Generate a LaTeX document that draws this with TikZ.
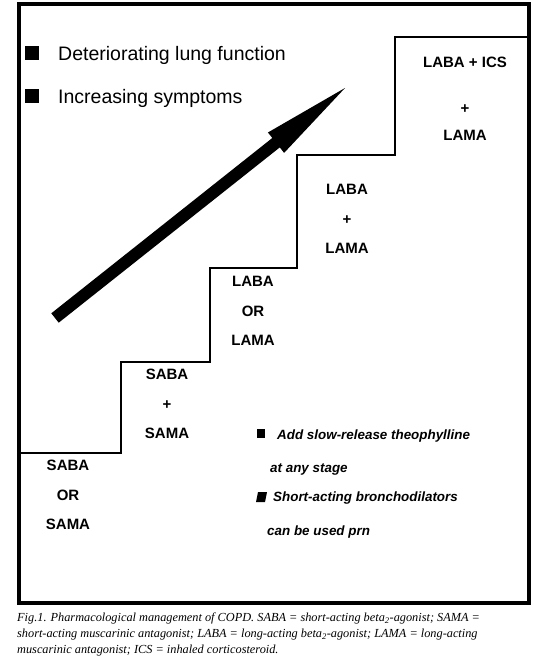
\documentclass[tikz,border=0pt]{standalone}
\usepackage{fontspec}
\setmainfont{Liberation Serif}
\newfontfamily\arialf{Liberation Sans}
\begin{document}
\begin{tikzpicture}[x=1pt,y=-1pt,
  frame/.style={line width=4pt},
  stair/.style={line width=2.4pt, line join=miter},
  legend/.style={anchor=base west, inner sep=0pt, font=\arialf\fontsize{19.5}{23}\selectfont},
  steplabel/.style={inner sep=0pt, align=center, font=\arialf\bfseries\fontsize{15}{29.5}\selectfont},
  note/.style={anchor=base west, inner sep=0pt, font=\arialf\bfseries\itshape\fontsize{13.4}{16}\selectfont},
  caption/.style={anchor=north west, inner sep=0pt, align=left, font=\itshape\fontsize{12.3}{16}\selectfont}]
\useasboundingbox (0,0) rectangle (534,668);
\fill[white] (0,0) rectangle (534,668);
% frame
\draw[frame] (19,4) rectangle (529,603);
% staircase
\draw[stair] (19,453) -- (121,453) -- (121,362) -- (210,362) -- (210,268) -- (297,268) -- (297,155) -- (395,155) -- (395,37) -- (529,37);
% big arrow
\fill (51.3,313.3) -- (272.3,138.0) -- (267.9,132.5) -- (345,88) -- (284.1,152.9) -- (279.8,147.4) -- (58.7,322.7) -- cycle;
% legend
\fill (25,46) rectangle (39,60);
\fill (25,89) rectangle (39,103);
\node[legend] (l1) at (58,61) {Deteriorating lung function};
\node[legend] (l2) at (58,104) {Increasing symptoms};
% step labels
\node[steplabel] (s1) at (68,495) {SABA\\OR\\SAMA};
\node[steplabel] (s2) at (167,404) {SABA\\+\\SAMA};
\node[steplabel] (s3) at (253,311) {LABA\\OR\\LAMA};
\node[steplabel] (s4) at (347,219) {LABA\\+\\LAMA};
\node[steplabel, font=\arialf\bfseries\fontsize{15}{27}\selectfont] (s5) at (465,98.5) {LABA + ICS\\[19pt]+\\LAMA};
% notes
\fill (257,429) rectangle (265,438);
\fill (258,492) -- (267,492) -- (265,502) -- (256,502) -- cycle;
\node[note] (n1) at (277,439) {Add slow-release theophylline};
\node[note] (n2) at (270,472) {at any stage};
\node[note] (n3) at (273,501) {Short-acting bronchodilators};
\node[note] (n4) at (267,535) {can be used prn};
% caption
\node[caption] (cap) at (17,612.6) {Fig.1. Pharmacological management of COPD. SABA = short-acting beta\textsubscript{2}-agonist; SAMA =\\
short-acting muscarinic antagonist; LABA = long-acting beta\textsubscript{2}-agonist; LAMA = long-acting\\
muscarinic antagonist; ICS = inhaled corticosteroid.};
\end{tikzpicture}
\end{document}
